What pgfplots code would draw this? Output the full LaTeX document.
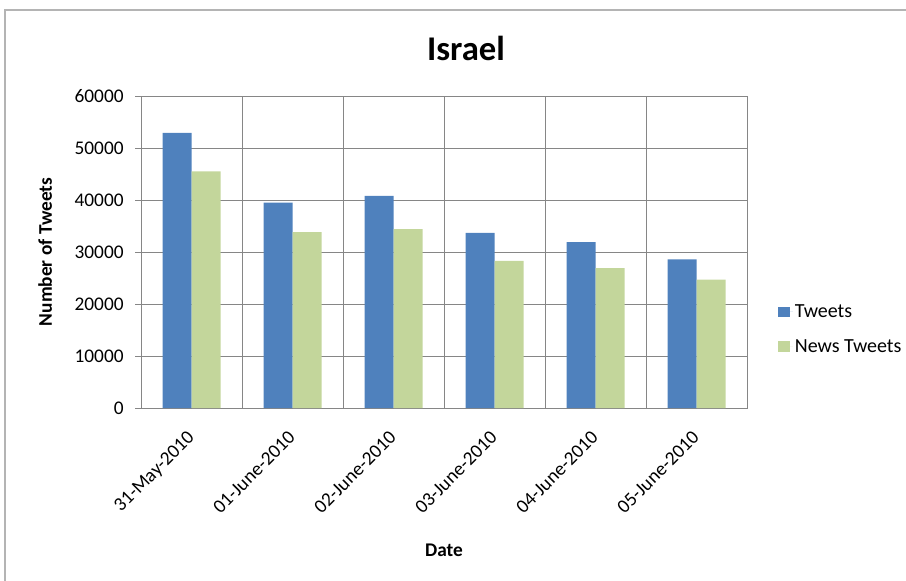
\documentclass[border=0pt]{standalone}
\usepackage{pgfplots}
\pgfplotsset{compat=1.18}
\usepackage{fontspec}
\setmainfont{Carlito}
\definecolor{tweetblue}{HTML}{4F81BD}
\definecolor{newsgreen}{HTML}{C3D69B}
\definecolor{gridgray}{RGB}{134,134,134}
\definecolor{framegray}{RGB}{180,180,180}
\begin{document}
\begin{tikzpicture}
\path[use as bounding box] (0pt,0pt) rectangle (679.5pt,-435.75pt);
\draw[framegray,line width=0.9pt] (3.75pt,-435.75pt) -- (3.75pt,-7.5pt) -- (679.5pt,-7.5pt);
\node[font=\fontsize{26}{30}\selectfont\bfseries] at (349.5pt,-36.5pt) {Israel};
\begin{axis}[
  at={(105.75pt,-306pt)}, anchor=south west,
  scale only axis, width=454.5pt, height=234pt,
  ybar=0pt, bar width=21.75pt,
  xmin=-0.5, xmax=5.5, ymin=0, ymax=60000,
  xtick={0,1,2,3,4,5},
  xticklabels={31-May-2010,01-June-2010,02-June-2010,03-June-2010,04-June-2010,05-June-2010},
  xtick style={draw=none},
  minor xtick={-0.5,0.5,1.5,2.5,3.5,4.5,5.5},
  xminorgrids,
  ytick={0,10000,20000,30000,40000,50000,60000},
  ymajorgrids,
  ytick pos=left,
  scaled y ticks=false,
  yticklabel style={/pgf/number format/1000 sep={}, xshift=-5pt},
  /pgf/number format/assume math mode=true,
  tick align=outside, major tick length=4.5pt,
  ytick style={gridgray},
  axis line style={gridgray},
  grid style={gridgray, line width=0.6pt},
  minor grid style={gridgray, line width=0.6pt},
  tick label style={font=\fontsize{14.5}{17}\selectfont},
  xticklabel style={xshift=-4pt, yshift=-9pt, rotate=45, anchor=north east, inner sep=2pt},
  xlabel={Date}, ylabel={Number of Tweets},
  label style={font=\fontsize{14.5}{17}\selectfont\bfseries},
  xlabel style={at={(axis description cs:0.5,-0.455)}, anchor=center},
  ylabel style={at={(axis description cs:-0.158,0.5)}, anchor=center, rotate=0},
  legend style={at={(axis description cs:1.051,0.252)}, anchor=west, draw=none,
    font=\fontsize{15}{18}\selectfont, row sep=12pt, inner sep=0pt,
    nodes={inner sep=1.5pt}},
  legend cell align=left,
  legend image code/.code={\draw[#1,/tikz/.cd,draw=none] (0pt,-4pt) rectangle (8.5pt,4pt); \path (8.5pt,0pt) -- (11pt,0pt);},
]
\addplot[fill=tweetblue, draw=none] coordinates {(0,52900) (1,39500) (2,40800) (3,33700) (4,31900) (5,28600)};
\addplot[fill=newsgreen, draw=none] coordinates {(0,45500) (1,33800) (2,34400) (3,28300) (4,26900) (5,24700)};
\legend{Tweets, News Tweets}
\end{axis}
\end{tikzpicture}
\end{document}
